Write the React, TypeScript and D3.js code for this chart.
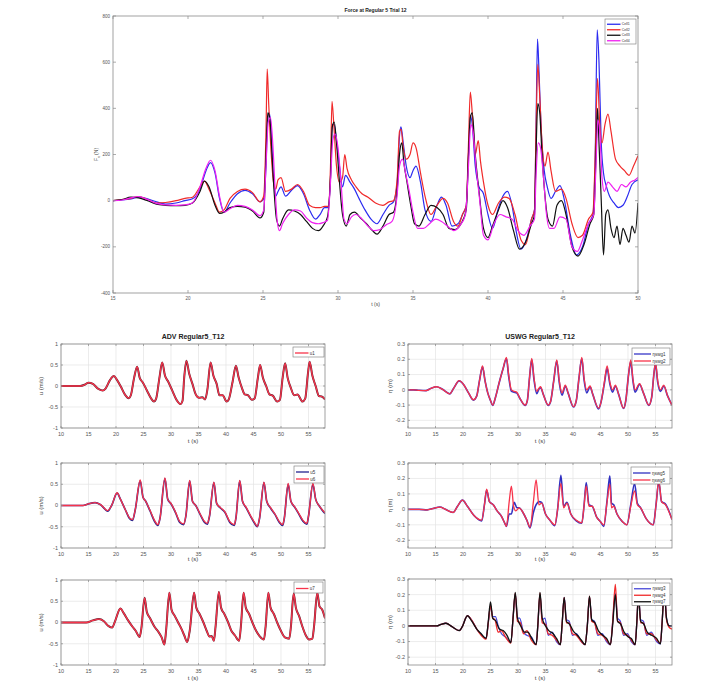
import React from 'react';
import * as d3 from 'd3';

type Pt = [number, number];

// ---------------- Top plot: force (t, N) ----------------
const forceTicksX = [15, 20, 25, 30, 35, 40, 45, 50];
const forceTicksY = [-400, -200, 0, 200, 400, 600, 800];
const forceLabels = ['Cell1', 'Cell2', 'Cell3', 'Cell4'];

const forceCell1: Pt[] = [[15,0],[15.6,3],[16.2,8],[16.7,15],[17.3,8],[17.9,-5],[18.5,-15],[19.2,-10],[19.8,0],[20.3,8],[20.8,50],[21.2,130],[21.5,165],[21.8,120],[22.1,10],[22.4,-50],[22.8,-10],[23.3,30],[23.8,45],[24.3,30],[24.8,-5],[25.05,10],[25.2,150],[25.3,340],[25.42,380],[25.55,300],[25.7,100],[25.85,20],[26.0,40],[26.2,60],[26.5,20],[26.9,45],[27.3,65],[27.7,30],[28.1,-40],[28.5,-80],[28.8,-60],[29.1,-30],[29.35,-30],[29.5,100],[29.62,330],[29.75,330],[29.9,260],[30.1,150],[30.3,60],[30.5,110],[30.8,80],[31.1,50],[31.4,10],[31.8,-40],[32.2,-80],[32.6,-100],[33.0,-60],[33.4,-20],[33.7,-5],[33.95,80],[34.1,280],[34.2,320],[34.35,250],[34.55,150],[34.8,100],[35.0,130],[35.2,150],[35.5,80],[35.8,-40],[36.2,-90],[36.6,-20],[36.9,15],[37.2,-20],[37.6,-110],[38.0,-100],[38.3,-60],[38.55,-20],[38.7,200],[38.82,370],[38.95,330],[39.15,150],[39.4,60],[39.7,30],[40.0,-60],[40.3,-120],[40.7,-30],[41.0,20],[41.3,40],[41.6,-20],[41.9,-140],[42.2,-210],[42.6,-160],[42.9,-80],[43.1,-40],[43.2,300],[43.3,700],[43.4,560],[43.55,300],[43.75,130],[43.95,60],[44.2,10],[44.5,40],[44.8,65],[45.1,0],[45.5,-150],[45.9,-235],[46.3,-200],[46.7,-100],[47.0,-60],[47.15,200],[47.28,740],[47.4,600],[47.55,250],[47.7,120],[47.9,60],[48.1,20],[48.4,-10],[48.7,-30],[49.0,-20],[49.3,20],[49.6,70],[50.0,90]];

const forceCell2: Pt[] = [[15,0],[15.6,5],[16.2,10],[16.7,18],[17.3,5],[17.9,-10],[18.5,-8],[19.2,0],[19.8,10],[20.3,15],[20.8,60],[21.1,85],[21.4,50],[21.8,-10],[22.1,-50],[22.4,-40],[22.8,10],[23.3,40],[23.8,50],[24.3,35],[24.8,-5],[25.05,20],[25.2,300],[25.28,570],[25.38,420],[25.55,200],[25.7,80],[25.85,50],[26.0,90],[26.2,100],[26.5,40],[26.9,50],[27.3,70],[27.7,40],[28.1,-20],[28.5,-30],[28.8,-30],[29.1,-25],[29.35,-25],[29.5,150],[29.6,430],[29.72,330],[29.9,150],[30.1,80],[30.3,100],[30.45,200],[30.6,140],[30.9,90],[31.2,60],[31.6,30],[32.0,15],[32.5,-10],[33.0,-20],[33.4,-5],[33.7,0],[33.95,100],[34.1,300],[34.2,310],[34.35,230],[34.55,180],[34.8,200],[35.0,250],[35.2,230],[35.5,120],[35.8,20],[36.2,-60],[36.6,-20],[37.0,10],[37.3,-10],[37.7,-90],[38.0,-110],[38.3,-60],[38.55,-20],[38.7,250],[38.82,470],[38.95,380],[39.15,200],[39.35,260],[39.5,170],[39.7,80],[40.0,-20],[40.3,-60],[40.7,-10],[41.1,15],[41.4,10],[41.8,-60],[42.2,-170],[42.5,-190],[42.9,-80],[43.1,-40],[43.2,300],[43.32,590],[43.45,450],[43.6,250],[43.8,150],[44.0,210],[44.2,130],[44.5,40],[44.9,50],[45.2,10],[45.6,-100],[46.0,-160],[46.3,-150],[46.7,-80],[47.0,-50],[47.15,200],[47.3,530],[47.45,330],[47.6,250],[47.8,330],[48.0,375],[48.2,300],[48.5,180],[48.8,150],[49.1,130],[49.4,110],[49.7,150],[50.0,195]];

const forceCell3: Pt[] = [[15,0],[15.6,5],[16.2,15],[16.7,12],[17.3,0],[17.9,-15],[18.5,-20],[19.2,-22],[19.8,-20],[20.3,-10],[20.8,40],[21.1,85],[21.4,60],[21.8,-20],[22.1,-55],[22.4,-50],[22.8,-30],[23.3,-25],[23.8,-28],[24.3,-45],[24.8,-75],[25.05,-50],[25.2,200],[25.32,380],[25.45,360],[25.6,200],[25.75,30],[25.9,-80],[26.1,-110],[26.3,-80],[26.7,-40],[27.1,-45],[27.5,-60],[27.9,-90],[28.3,-120],[28.7,-130],[29.0,-110],[29.3,-70],[29.5,100],[29.62,320],[29.75,340],[29.9,250],[30.1,80],[30.3,-60],[30.55,-110],[30.8,-60],[31.1,-50],[31.5,-75],[31.9,-100],[32.3,-130],[32.6,-145],[33.0,-110],[33.4,-60],[33.7,-50],[33.95,50],[34.1,200],[34.25,250],[34.4,160],[34.6,80],[34.85,-20],[35.1,-100],[35.4,-110],[35.8,-60],[36.2,-20],[36.6,-30],[37.0,-60],[37.4,-120],[37.8,-125],[38.2,-100],[38.55,-40],[38.7,200],[38.82,360],[38.95,380],[39.15,200],[39.4,40],[39.7,-120],[40.0,-160],[40.3,-110],[40.7,-40],[41.0,0],[41.3,-30],[41.7,-130],[42.1,-210],[42.5,-180],[42.9,-100],[43.1,-60],[43.2,200],[43.32,420],[43.45,380],[43.6,200],[43.8,20],[44.0,-80],[44.3,-110],[44.6,-20],[44.9,0],[45.2,-60],[45.6,-200],[46.0,-240],[46.4,-190],[46.8,-100],[47.05,-60],[47.2,200],[47.3,400],[47.4,250],[47.55,0],[47.7,-235],[47.85,-60],[48.0,-40],[48.2,-120],[48.4,-160],[48.6,-110],[48.8,-190],[49.0,-120],[49.2,-150],[49.4,-180],[49.6,-110],[49.8,-140],[50.0,-10]];

const forceCell4: Pt[] = [[15,0],[15.6,3],[16.2,12],[16.7,18],[17.3,5],[17.9,-12],[18.5,-18],[19.2,-20],[19.8,-18],[20.3,-10],[20.8,60],[21.2,140],[21.5,175],[21.8,130],[22.1,20],[22.4,-50],[22.8,-35],[23.3,-20],[23.8,-25],[24.3,-40],[24.8,-65],[25.05,-40],[25.2,150],[25.35,340],[25.5,360],[25.65,250],[25.8,60],[25.95,-90],[26.1,-130],[26.3,-100],[26.7,-60],[27.1,-40],[27.5,-45],[27.9,-75],[28.3,-95],[28.7,-100],[29.0,-95],[29.3,-85],[29.5,80],[29.65,260],[29.8,290],[30.0,230],[30.2,80],[30.4,-80],[30.6,-100],[30.9,-70],[31.2,-60],[31.6,-80],[32.0,-110],[32.4,-130],[32.8,-125],[33.2,-105],[33.6,-90],[33.95,30],[34.1,150],[34.3,180],[34.5,120],[34.75,40],[35.0,-50],[35.3,-120],[35.7,-120],[36.1,-100],[36.5,-80],[36.9,-90],[37.3,-110],[37.7,-130],[38.1,-110],[38.5,-60],[38.7,150],[38.85,330],[39.0,300],[39.2,150],[39.45,0],[39.7,-150],[40.0,-170],[40.4,-100],[40.8,-60],[41.2,-70],[41.6,-80],[42.0,-130],[42.4,-150],[42.8,-110],[43.1,-80],[43.2,100],[43.35,250],[43.5,230],[43.7,100],[43.9,-60],[44.1,-120],[44.4,-120],[44.8,-70],[45.2,-80],[45.6,-200],[45.95,-220],[46.3,-170],[46.7,-100],[47.05,-60],[47.2,150],[47.32,350],[47.45,300],[47.6,100],[47.75,40],[48.0,80],[48.3,60],[48.6,40],[48.9,70],[49.2,60],[49.5,80],[49.8,90],[50.0,100]];

// ---------------- Bottom plots ----------------
const timeTicks = [10, 15, 20, 25, 30, 35, 40, 45, 50, 55];
const uTicks = [-1, -0.5, 0, 0.5, 1];
const etaTicks = [-0.2, -0.1, 0, 0.1, 0.2, 0.3];

const u1: Pt[] = [[10,0],[12,0],[13.5,0],[14.3,0.03],[15,0.08],[15.8,0.05],[16.8,-0.07],[17.6,-0.11],[18.1,-0.06],[18.9,0.14],[19.6,0.24],[20.2,0.14],[20.9,-0.02],[21.6,-0.2],[22.3,-0.29],[22.7,-0.22],[23.3,0.2],[23.85,0.46],[24.3,0.2],[24.9,0.08],[25.6,-0.1],[26.4,-0.3],[26.9,-0.37],[27.3,-0.3],[27.9,0.2],[28.4,0.56],[28.9,0.25],[29.5,0.1],[30.2,-0.1],[31.0,-0.33],[31.7,-0.43],[32.1,-0.35],[32.4,0.2],[32.8,0.6],[33.3,0.3],[33.9,0.05],[34.5,-0.2],[35.1,-0.28],[35.7,-0.27],[36.2,-0.32],[36.6,-0.1],[37.2,0.56],[37.7,0.25],[38.3,0.05],[38.8,-0.22],[39.4,-0.22],[40.1,-0.37],[40.5,-0.32],[41.2,0.1],[41.8,0.48],[42.3,0.2],[42.9,-0.05],[43.4,-0.2],[44.0,-0.22],[44.7,-0.33],[45.2,-0.3],[45.8,0.2],[46.2,0.5],[46.7,0.2],[47.3,0],[47.9,-0.2],[48.5,-0.23],[49.3,-0.37],[49.8,-0.33],[50.3,0.2],[50.75,0.54],[51.2,0.2],[51.8,-0.05],[52.4,-0.22],[53.0,-0.2],[53.9,-0.37],[54.4,-0.3],[54.9,0.3],[55.2,0.58],[55.7,0.25],[56.3,0],[56.9,-0.24],[57.4,-0.25],[58,-0.32]];

const u5: Pt[] = [[10,0],[12,0],[14,0],[14.8,0.03],[16.2,0.07],[17.2,0.02],[18.5,-0.13],[19.2,0],[20.2,0.29],[20.8,0.15],[21.7,-0.1],[22.5,-0.31],[23.0,-0.35],[23.5,-0.1],[24.4,0.58],[24.9,0.2],[25.4,0.1],[26.2,-0.13],[27.0,-0.37],[27.6,-0.47],[28.0,-0.3],[28.9,0.63],[29.4,0.15],[30.0,0.04],[30.8,-0.16],[31.6,-0.4],[32.3,-0.45],[32.7,-0.25],[33.4,0.58],[33.9,0.1],[34.5,0],[35.3,-0.21],[36.0,-0.38],[36.6,-0.44],[37.0,-0.25],[37.8,0.54],[38.3,0.05],[39.0,-0.06],[39.8,-0.16],[40.7,-0.4],[41.5,-0.47],[41.8,-0.3],[42.5,0.58],[43.0,0.1],[43.7,-0.06],[44.5,-0.26],[45.2,-0.42],[45.7,-0.5],[46.1,-0.3],[46.9,0.54],[47.4,0.1],[48.1,-0.06],[48.9,-0.21],[49.7,-0.4],[50.3,-0.47],[50.6,-0.3],[51.3,0.5],[51.8,0.1],[52.5,-0.04],[53.2,-0.19],[54.0,-0.37],[54.7,-0.44],[55.0,-0.25],[55.8,0.5],[56.3,0.15],[56.9,0],[57.5,-0.11],[58,-0.19]];

const u6: Pt[] = [[10,0],[12,0],[14,0],[14.8,0.03],[16.2,0.07],[17.2,0.02],[18.5,-0.12],[19.2,0],[20.2,0.3],[20.8,0.15],[21.7,-0.1],[22.5,-0.3],[23.0,-0.33],[23.5,-0.1],[24.4,0.6],[24.9,0.2],[25.4,0.1],[26.2,-0.12],[27.0,-0.35],[27.6,-0.45],[28.0,-0.3],[28.9,0.65],[29.4,0.15],[30.0,0.05],[30.8,-0.15],[31.6,-0.38],[32.3,-0.43],[32.7,-0.25],[33.4,0.59],[33.9,0.1],[34.5,0],[35.3,-0.2],[36.0,-0.36],[36.6,-0.42],[37.0,-0.25],[37.8,0.55],[38.3,0.05],[39.0,-0.05],[39.8,-0.15],[40.7,-0.38],[41.5,-0.45],[41.8,-0.3],[42.5,0.59],[43.0,0.1],[43.7,-0.05],[44.5,-0.25],[45.2,-0.4],[45.7,-0.49],[46.1,-0.3],[46.9,0.55],[47.4,0.1],[48.1,-0.05],[48.9,-0.2],[49.7,-0.38],[50.3,-0.45],[50.6,-0.3],[51.3,0.52],[51.8,0.1],[52.5,-0.03],[53.2,-0.18],[54.0,-0.35],[54.7,-0.42],[55.0,-0.25],[55.8,0.52],[56.3,0.15],[56.9,0],[57.5,-0.1],[58,-0.17]];

const u7: Pt[] = [[10,0],[12,0],[14,0],[14.6,0],[15.8,0.05],[16.9,0.08],[17.8,0.03],[18.6,-0.08],[19.3,-0.12],[19.8,0.02],[20.8,0.33],[21.4,0.22],[22.2,0.05],[23.0,-0.1],[23.6,-0.2],[24.3,-0.34],[24.6,-0.15],[25.2,0.58],[25.6,0.25],[26.2,0.1],[27.0,-0.1],[27.6,-0.2],[28.3,-0.35],[28.8,-0.52],[29.1,-0.2],[29.7,0.7],[30.1,0.3],[30.7,0.15],[31.3,0],[31.9,-0.15],[32.4,-0.3],[32.95,-0.46],[33.4,-0.2],[34.2,0.7],[34.6,0.35],[35.2,0.2],[35.9,0],[36.5,-0.2],[37.0,-0.33],[37.4,-0.32],[37.8,-0.43],[38.1,-0.1],[38.7,0.72],[39.1,0.35],[39.7,0.2],[40.4,0],[41.0,-0.2],[41.6,-0.3],[42.4,-0.43],[42.7,-0.1],[43.2,0.7],[43.6,0.35],[44.2,0.2],[44.8,0],[45.5,-0.2],[46.1,-0.32],[46.9,-0.4],[47.2,-0.1],[47.7,0.7],[48.1,0.35],[48.7,0.2],[49.3,0],[50.0,-0.2],[50.7,-0.35],[51.5,-0.38],[51.8,-0.1],[52.3,0.68],[52.7,0.35],[53.3,0.15],[53.9,-0.1],[54.5,-0.3],[55.1,-0.4],[55.7,-0.38],[56.0,-0.1],[56.6,0.7],[57.0,0.38],[57.5,0.3],[58,0.1]];

const eta1: Pt[] = [[10,0],[11,0],[12,-0.003],[13.3,-0.005],[14.2,0.01],[15.2,0.02],[16.2,0.005],[17.6,-0.026],[18.3,0.01],[19.3,0.058],[20.1,0.035],[21.0,-0.02],[21.9,-0.067],[22.5,-0.04],[23.0,0.06],[23.55,0.15],[24.0,0.06],[24.5,-0.02],[25.0,-0.07],[25.4,-0.102],[25.9,-0.05],[26.6,0.05],[27.3,0.14],[27.9,0.205],[28.3,0.09],[28.8,-0.01],[29.3,-0.015],[29.75,-0.02],[30.4,-0.06],[31.3,-0.102],[31.7,-0.07],[32.1,0.08],[32.5,0.198],[32.9,0.07],[33.4,-0.025],[33.8,0.005],[34.1,0.015],[34.6,-0.03],[35.5,-0.102],[35.9,-0.08],[36.5,0.06],[37.05,0.19],[37.5,0.05],[38.0,-0.035],[38.6,0.025],[39.1,-0.02],[40.1,-0.112],[40.6,-0.07],[41.1,0.08],[41.6,0.205],[42.0,0.07],[42.5,-0.02],[43.1,0.02],[43.6,-0.03],[44.65,-0.125],[45.1,-0.08],[45.7,0.04],[46.2,0.14],[46.7,0.04],[47.2,-0.015],[47.7,0.025],[48.3,-0.03],[49.2,-0.122],[49.6,-0.07],[50.1,0.1],[50.5,0.185],[50.9,0.06],[51.3,-0.015],[52.1,0.035],[52.8,-0.02],[53.8,-0.102],[54.3,-0.05],[54.7,0.1],[55.0,0.17],[55.4,0.05],[55.9,-0.01],[56.5,0.025],[57.2,-0.04],[58,-0.1]];

const eta2: Pt[] = [[10,0],[11,0],[12,-0.003],[13.3,-0.005],[14.2,0.01],[15.2,0.02],[16.2,0.005],[17.6,-0.026],[18.3,0.01],[19.3,0.06],[20.1,0.035],[21.0,-0.02],[21.9,-0.065],[22.5,-0.04],[23.0,0.06],[23.55,0.156],[24.0,0.06],[24.5,-0.02],[25.0,-0.07],[25.4,-0.1],[25.9,-0.05],[26.6,0.05],[27.3,0.14],[27.9,0.213],[28.3,0.1],[28.8,0],[29.3,-0.01],[29.75,-0.015],[30.4,-0.06],[31.3,-0.1],[31.7,-0.07],[32.1,0.08],[32.5,0.206],[32.9,0.08],[33.4,-0.01],[33.8,0.01],[34.1,0.02],[34.6,-0.03],[35.5,-0.1],[35.9,-0.08],[36.5,0.06],[37.05,0.196],[37.5,0.06],[38.0,-0.02],[38.6,0.03],[39.1,-0.02],[40.1,-0.11],[40.6,-0.07],[41.1,0.08],[41.6,0.213],[42.0,0.08],[42.5,0],[43.1,0.025],[43.6,-0.03],[44.65,-0.12],[45.1,-0.08],[45.7,0.05],[46.2,0.156],[46.7,0.05],[47.2,0],[47.7,0.03],[48.3,-0.03],[49.2,-0.12],[49.6,-0.07],[50.1,0.1],[50.5,0.196],[50.9,0.07],[51.3,0],[52.1,0.04],[52.8,-0.02],[53.8,-0.1],[54.3,-0.05],[54.7,0.1],[55.0,0.178],[55.4,0.06],[55.9,0],[56.5,0.03],[57.2,-0.04],[58,-0.1]];

const eta5: Pt[] = [[10,0],[12,0],[13.5,-0.003],[14.5,0.005],[15.8,0.015],[16.8,0],[18.2,-0.02],[19.0,0.02],[19.9,0.06],[20.8,0.02],[22.0,-0.04],[23.4,-0.075],[23.9,0.03],[24.3,0.125],[24.8,0.05],[25.5,0.03],[26.2,-0.01],[27.0,-0.045],[27.6,-0.09],[27.9,-0.11],[28.4,-0.03],[28.8,-0.03],[29.3,0.045],[29.8,0.01],[30.2,0.01],[30.9,-0.02],[31.6,-0.07],[32.2,-0.12],[32.8,-0.02],[33.3,0.03],[33.8,0.05],[34.3,0.045],[35.0,-0.03],[35.8,-0.07],[36.7,-0.105],[37.2,0],[37.8,0.22],[38.3,0.02],[38.9,0.045],[39.6,-0.03],[40.6,-0.075],[41.6,-0.09],[42.0,0.02],[42.4,0.174],[42.9,0.03],[43.5,0.02],[44.3,-0.05],[45.0,-0.08],[45.6,-0.11],[46.2,0.06],[46.7,0.217],[47.0,0.04],[47.4,0.03],[48.0,-0.03],[49.0,-0.08],[49.8,-0.1],[50.5,0.03],[51.2,0.167],[51.7,0.04],[52.3,0.01],[53.3,-0.06],[54.6,-0.1],[55.1,0.03],[55.6,0.18],[56.1,0.05],[56.8,0.035],[58,-0.065]];

const eta6: Pt[] = [[10,0],[12,0],[13.5,-0.003],[14.5,0.005],[15.8,0.015],[16.8,0],[18.2,-0.02],[19.0,0.02],[19.9,0.06],[20.8,0.02],[22.0,-0.04],[23.4,-0.07],[23.9,0.03],[24.3,0.13],[24.8,0.05],[25.5,0.03],[26.2,-0.01],[27.0,-0.045],[27.6,-0.09],[27.9,-0.11],[28.4,0.05],[28.8,0.15],[29.2,0.02],[29.6,-0.01],[30.2,0.01],[30.9,-0.02],[31.6,-0.07],[32.2,-0.115],[32.8,0.05],[33.3,0.19],[33.8,0.03],[34.3,0.04],[35.0,-0.03],[35.8,-0.07],[36.7,-0.1],[37.2,0],[37.8,0.168],[38.3,0.01],[38.9,0.04],[39.6,-0.03],[40.6,-0.07],[41.6,-0.087],[42.0,0.02],[42.4,0.152],[42.9,0.02],[43.5,0.02],[44.3,-0.05],[45.0,-0.08],[45.6,-0.1],[46.2,0.05],[46.7,0.163],[47.0,0.01],[47.4,0.02],[48.0,-0.03],[49.0,-0.08],[49.8,-0.1],[50.5,0.02],[51.2,0.12],[51.7,0.03],[52.3,0.01],[53.3,-0.06],[54.6,-0.1],[55.1,0.03],[55.6,0.185],[56.1,0.05],[56.8,0.03],[58,-0.065]];

const eta3: Pt[] = [[10,0],[12,0],[14,0],[15.2,0],[16.0,0.01],[16.9,0.017],[18.0,-0.005],[19.3,-0.03],[19.8,-0.01],[20.8,0.065],[21.6,0.035],[22.5,-0.02],[23.3,-0.055],[24.2,-0.08],[24.6,0.02],[25.0,0.13],[25.4,0.06],[25.9,0.06],[26.4,0.0],[27.0,-0.05],[27.7,-0.07],[28.7,-0.105],[29.1,0.05],[29.5,0.205],[29.9,0.05],[30.3,0.05],[31.0,-0.04],[31.6,-0.06],[32.4,-0.07],[33.3,-0.12],[33.6,0],[34.0,0.2],[34.4,0.04],[34.9,0.05],[35.5,-0.06],[36.2,-0.04],[37.0,-0.1],[37.7,-0.12],[38.0,0],[38.4,0.18],[38.8,0.04],[39.3,0.03],[39.9,-0.06],[40.6,-0.05],[41.5,-0.1],[42.2,-0.12],[42.6,0],[43.0,0.185],[43.4,0.04],[43.9,0.03],[44.5,-0.06],[45.3,-0.05],[46.1,-0.1],[46.8,-0.12],[47.2,0.02],[47.7,0.21],[48.1,0.05],[48.6,0.03],[49.2,-0.06],[49.9,-0.05],[50.6,-0.1],[51.3,-0.12],[51.6,0.02],[51.9,0.19],[52.3,0.04],[52.8,0.03],[53.4,-0.06],[54.2,-0.04],[55.2,-0.1],[55.9,-0.115],[56.2,0.02],[56.6,0.23],[57.0,0.05],[57.5,0],[58,0]];

const eta4: Pt[] = [[10,0],[12,0],[14,0],[15.2,0],[16.0,0.01],[16.9,0.017],[18.0,-0.005],[19.3,-0.03],[19.8,-0.01],[20.8,0.065],[21.6,0.035],[22.5,-0.02],[23.3,-0.06],[24.2,-0.085],[24.6,0.02],[25.0,0.13],[25.4,0.05],[25.8,0.04],[26.4,-0.04],[27.0,-0.03],[27.7,-0.07],[28.7,-0.11],[29.1,0.05],[29.5,0.21],[29.9,0.03],[30.4,0.02],[31.0,-0.05],[31.6,-0.03],[32.4,-0.09],[33.3,-0.12],[33.6,0],[34.0,0.21],[34.4,0.02],[35.0,0.01],[35.5,-0.05],[36.2,-0.06],[37.0,-0.09],[37.7,-0.12],[38.0,0],[38.4,0.18],[38.8,0.02],[39.3,0.02],[39.9,-0.05],[40.6,-0.06],[41.5,-0.1],[42.2,-0.12],[42.6,0],[43.0,0.19],[43.4,0.03],[43.9,0.02],[44.5,-0.05],[45.3,-0.06],[46.1,-0.09],[46.8,-0.12],[47.2,0.02],[47.7,0.265],[48.1,0.03],[48.6,0.02],[49.2,-0.05],[49.9,-0.06],[50.6,-0.09],[51.3,-0.12],[51.6,0.02],[51.9,0.2],[52.3,0.02],[52.8,0.02],[53.4,-0.05],[54.2,-0.05],[55.2,-0.09],[55.9,-0.11],[56.2,0.02],[56.6,0.24],[57.0,0.04],[57.5,-0.01],[58,-0.02]];

const eta7: Pt[] = [[10,0],[12,0],[14,0],[15.2,0],[16.0,0.01],[16.9,0.017],[18.0,-0.005],[19.3,-0.03],[19.8,-0.01],[20.8,0.065],[21.6,0.03],[22.5,-0.02],[23.3,-0.05],[24.2,-0.08],[24.6,0.03],[25.0,0.153],[25.4,0.05],[26.0,0.03],[26.6,-0.02],[27.3,-0.03],[28.0,-0.06],[28.7,-0.107],[29.1,0.05],[29.5,0.215],[29.9,0.05],[30.5,0],[31.2,-0.04],[31.8,-0.04],[32.5,-0.08],[33.3,-0.12],[33.6,0],[34.0,0.215],[34.4,0.05],[35.0,0],[35.6,-0.03],[36.4,-0.05],[37.0,-0.08],[37.7,-0.12],[38.0,0],[38.4,0.183],[38.8,0.03],[39.4,0.01],[40.0,-0.03],[40.8,-0.06],[41.5,-0.09],[42.2,-0.12],[42.6,0],[43.0,0.19],[43.4,0.04],[44.0,0.02],[44.6,-0.03],[45.4,-0.06],[46.1,-0.08],[46.8,-0.12],[47.2,0],[47.7,0.2],[48.1,0.03],[48.7,0.01],[49.3,-0.04],[50.0,-0.07],[50.6,-0.08],[51.3,-0.12],[51.6,0.02],[51.9,0.2],[52.3,0.03],[52.9,0.01],[53.5,-0.04],[54.3,-0.06],[55.2,-0.08],[55.9,-0.115],[56.2,0.02],[56.6,0.22],[57.0,0.05],[57.5,0],[58,0]];

const FONT = '"Liberation Sans", Arial, Helvetica, sans-serif';
const BLUE = '#2b2bf0';
const RED = '#f02a2a';
const BLACK = '#111111';
const MAGENTA = '#f020f0';
const NAVY = '#23238f';
const PINK = '#f7334a';

interface Series { data: Pt[]; color: string; width: number; }
interface LegendSpec { labels: string[]; colors: string[]; x: number; y: number; w: number; rowH: number; fs: number; }
interface PanelProps {
  id: string;
  left: number; right: number; top: number; bottom: number;
  xDomain: [number, number]; yDomain: [number, number];
  xTicks: number[]; yTicks: number[];
  series: Series[]; grid: boolean;
  title?: string; titleY?: number; titleSize?: number;
  ylabel: React.ReactNode; ylabelX: number;
  xlabel: string; xlabelY: number;
  legend: LegendSpec;
  tickFs: number; tickLen: number;
}

function Panel(p: PanelProps) {
  const xs = d3.scaleLinear().domain(p.xDomain).range([p.left, p.right]);
  const ys = d3.scaleLinear().domain(p.yDomain).range([p.bottom, p.top]);
  const line = d3.line<Pt>().x(d => xs(d[0])).y(d => ys(d[1])).curve(d3.curveMonotoneX);
  const axisColor = '#8a8a8a';
  const tickColor = '#555';
  const L = p.legend;
  const midX = (p.left + p.right) / 2;
  const midY = (p.top + p.bottom) / 2;
  return (
    <g>
      <defs>
        <clipPath id={p.id}>
          <rect x={p.left} y={p.top} width={p.right - p.left} height={p.bottom - p.top} />
        </clipPath>
      </defs>
      <rect x={p.left} y={p.top} width={p.right - p.left} height={p.bottom - p.top} fill="#fff" />
      {p.grid && p.xTicks.map(t => (
        <line key={'gx' + t} x1={xs(t)} x2={xs(t)} y1={p.top} y2={p.bottom} stroke="#e4e4e4" strokeWidth={0.7} />
      ))}
      {p.grid && p.yTicks.map(t => (
        <line key={'gy' + t} x1={p.left} x2={p.right} y1={ys(t)} y2={ys(t)} stroke="#e4e4e4" strokeWidth={0.7} />
      ))}
      <g clipPath={`url(#${p.id})`}>
        {p.series.map((s, i) => (
          <path key={i} d={line(s.data) || ''} fill="none" stroke={s.color} strokeWidth={s.width} strokeLinejoin="round" />
        ))}
      </g>
      <rect x={p.left} y={p.top} width={p.right - p.left} height={p.bottom - p.top} fill="none" stroke={axisColor} strokeWidth={0.8} />
      {p.xTicks.map(t => (
        <g key={'tx' + t}>
          <line x1={xs(t)} x2={xs(t)} y1={p.bottom} y2={p.bottom - p.tickLen} stroke={axisColor} strokeWidth={0.7} />
          <line x1={xs(t)} x2={xs(t)} y1={p.top} y2={p.top + p.tickLen} stroke={axisColor} strokeWidth={0.7} />
          <text x={xs(t)} y={p.bottom + p.tickFs + 2} fontSize={p.tickFs} fill={tickColor} textAnchor="middle" fontFamily={FONT}>{t}</text>
        </g>
      ))}
      {p.yTicks.map(t => (
        <g key={'ty' + t}>
          <line x1={p.left} x2={p.left + p.tickLen} y1={ys(t)} y2={ys(t)} stroke={axisColor} strokeWidth={0.7} />
          <line x1={p.right} x2={p.right - p.tickLen} y1={ys(t)} y2={ys(t)} stroke={axisColor} strokeWidth={0.7} />
          <text x={p.left - 3} y={ys(t) + p.tickFs * 0.35} fontSize={p.tickFs} fill={tickColor} textAnchor="end" fontFamily={FONT}>{t}</text>
        </g>
      ))}
      {p.title && (
        <text x={midX} y={p.titleY} fontSize={p.titleSize} fontWeight="bold" fill="#222" textAnchor="middle" fontFamily={FONT}>{p.title}</text>
      )}
      <text x={midX} y={p.xlabelY} fontSize={p.tickFs + 0.5} fill="#444" textAnchor="middle" fontFamily={FONT}>{p.xlabel}</text>
      <text transform={`translate(${p.ylabelX},${midY}) rotate(-90)`} fontSize={p.tickFs + 0.5} fill="#444" textAnchor="middle" fontFamily={FONT}>{p.ylabel}</text>
      <g>
        <rect x={L.x} y={L.y} width={L.w} height={L.rowH * L.labels.length + 3} fill="#fff" stroke="#777" strokeWidth={0.6} />
        {L.labels.map((lab, i) => {
          const yy = L.y + 2.5 + L.rowH * (i + 0.5);
          return (
            <g key={lab + i}>
              <line x1={L.x + 2} x2={L.x + L.w * 0.5} y1={yy} y2={yy} stroke={L.colors[i]} strokeWidth={1.3} />
              <text x={L.x + L.w * 0.54} y={yy + L.fs * 0.35} fontSize={L.fs} fill="#333" fontFamily={FONT}>{lab}</text>
            </g>
          );
        })}
      </g>
    </g>
  );
}

export default function App() {
  const leftCol = { left: 61, right: 325 };
  const rightCol = { left: 408, right: 672 };
  const rows: [number, number][] = [[344, 428], [463, 548], [580, 665]];
  const common = { xDomain: [10, 58] as [number, number], xTicks: timeTicks, grid: true, tickFs: 5.5, tickLen: 2 };
  const uLab = 'u (m/s)';
  const etaLab = 'η (m)';
  return (
    <svg width={717} height={698} style={{ position: 'absolute', left: 0, top: 0, background: '#fff' }}>
      <rect x={0} y={0} width={717} height={698} fill="#fff" />
      <Panel
        id="cForce" left={113} right={638} top={16} bottom={293}
        xDomain={[15, 50]} yDomain={[-400, 800]} xTicks={forceTicksX} yTicks={forceTicksY}
        grid={false} tickFs={4.5} tickLen={3}
        series={[
          { data: forceCell1, color: BLUE, width: 1.2 },
          { data: forceCell2, color: RED, width: 1.2 },
          { data: forceCell3, color: BLACK, width: 1.2 },
          { data: forceCell4, color: MAGENTA, width: 1.2 },
        ]}
        title="Force at Regular 5 Trial 12" titleY={12} titleSize={5}
        ylabel={<tspan>F<tspan fontSize={3.5} dy={1.5}>x</tspan><tspan dy={-1.5}> (N)</tspan></tspan>} ylabelX={98}
        xlabel="t (s)" xlabelY={306}
        legend={{ labels: forceLabels, colors: [BLUE, RED, BLACK, MAGENTA], x: 605, y: 19, w: 31, rowH: 5.5, fs: 3.5 }}
      />
      <Panel id="cU1" {...common} left={leftCol.left} right={leftCol.right} top={rows[0][0]} bottom={rows[0][1]}
        yDomain={[-1, 1]} yTicks={uTicks}
        series={[{ data: u1, color: '#5a2535', width: 2.0 }, { data: u1, color: PINK, width: 1.3 }]}
        title="ADV Regular5_T12" titleY={339} titleSize={7}
        ylabel={uLab} ylabelX={43} xlabel="t (s)" xlabelY={443}
        legend={{ labels: ['u1'], colors: [PINK], x: 293, y: 347, w: 31, rowH: 7, fs: 4.5 }}
      />
      <Panel id="cU2" {...common} left={leftCol.left} right={leftCol.right} top={rows[1][0]} bottom={rows[1][1]}
        yDomain={[-1, 1]} yTicks={uTicks}
        series={[{ data: u5, color: NAVY, width: 1.7 }, { data: u6, color: PINK, width: 1.3 }]}
        ylabel={uLab} ylabelX={43} xlabel="t (s)" xlabelY={561}
        legend={{ labels: ['u5', 'u6'], colors: [NAVY, PINK], x: 294, y: 466, w: 30, rowH: 7, fs: 4.5 }}
      />
      <Panel id="cU3" {...common} left={leftCol.left} right={leftCol.right} top={rows[2][0]} bottom={rows[2][1]}
        yDomain={[-1, 1]} yTicks={uTicks}
        series={[{ data: u7, color: '#5a2535', width: 2.0 }, { data: u7, color: PINK, width: 1.3 }]}
        ylabel={uLab} ylabelX={43} xlabel="t (s)" xlabelY={680}
        legend={{ labels: ['u7'], colors: [PINK], x: 294, y: 582, w: 29, rowH: 8, fs: 4.5 }}
      />
      <Panel id="cE1" {...common} left={rightCol.left} right={rightCol.right} top={rows[0][0]} bottom={rows[0][1]}
        yDomain={[-0.25, 0.3]} yTicks={etaTicks}
        series={[{ data: eta1, color: '#3636c8', width: 1.7 }, { data: eta2, color: PINK, width: 1.3 }]}
        title="USWG Regular5_T12" titleY={339} titleSize={7}
        ylabel={etaLab} ylabelX={392} xlabel="t (s)" xlabelY={443}
        legend={{ labels: ['ηswg1', 'ηswg2'], colors: ['#3636c8', PINK], x: 632, y: 348, w: 38, rowH: 7, fs: 4.5 }}
      />
      <Panel id="cE2" {...common} left={rightCol.left} right={rightCol.right} top={rows[1][0]} bottom={rows[1][1]}
        yDomain={[-0.25, 0.3]} yTicks={etaTicks}
        series={[{ data: eta5, color: '#3030c0', width: 1.6 }, { data: eta6, color: PINK, width: 1.3 }]}
        ylabel={etaLab} ylabelX={392} xlabel="t (s)" xlabelY={561}
        legend={{ labels: ['ηswg5', 'ηswg6'], colors: ['#3030c0', PINK], x: 631, y: 467, w: 39, rowH: 7, fs: 4.5 }}
      />
      <Panel id="cE3" {...common} left={rightCol.left} right={rightCol.right} top={579} bottom={665}
        yDomain={[-0.25, 0.3]} yTicks={etaTicks}
        series={[
          { data: eta3, color: '#4a4ad8', width: 1.3 },
          { data: eta4, color: RED, width: 1.3 },
          { data: eta7, color: BLACK, width: 1.3 },
        ]}
        ylabel={etaLab} ylabelX={392} xlabel="t (s)" xlabelY={680}
        legend={{ labels: ['ηswg3', 'ηswg4', 'ηswg7'], colors: ['#4a4ad8', RED, BLACK], x: 632, y: 583, w: 38, rowH: 6.5, fs: 4.5 }}
      />
    </svg>
  );
}
